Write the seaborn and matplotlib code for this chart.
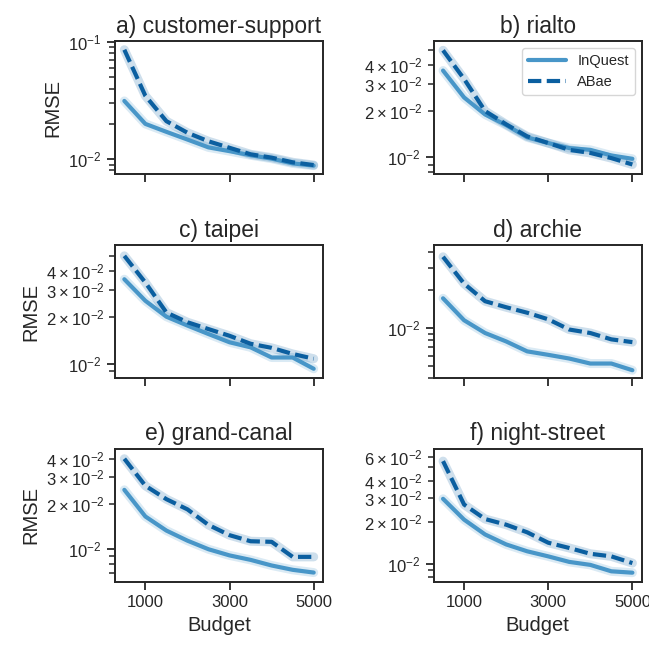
import pandas as pd
import matplotlib
matplotlib.use("Agg")
import matplotlib.pyplot as plt
import seaborn as sns

# === DATA ===
budgets = [500, 1000, 1500, 2000, 2500, 3000, 3500, 4000, 4500, 5000]

titles = ["a) customer-support", "b) rialto", "c) taipei",
          "d) archie", "e) grand-canal", "f) night-street"]

inquest_rmse = [
    [0.0314, 0.0200, 0.0171, 0.0147, 0.0126, 0.0117, 0.0108, 0.0101, 0.0092, 0.0088],
    [0.0366, 0.0245, 0.0190, 0.0162, 0.0135, 0.0124, 0.0115, 0.0112, 0.0103, 0.0098],
    [0.0353, 0.0256, 0.0202, 0.0177, 0.0156, 0.0138, 0.0128, 0.0110, 0.0110, 0.0093],
    [0.0172, 0.0115, 0.0091, 0.0078, 0.0065, 0.0061, 0.0057, 0.0052, 0.0052, 0.0046],
    [0.0248, 0.0165, 0.0133, 0.0114, 0.0100, 0.0091, 0.0085, 0.0078, 0.0073, 0.0070],
    [0.0296, 0.0209, 0.0163, 0.0138, 0.0123, 0.0113, 0.0103, 0.0098, 0.0088, 0.0086],
]

abae_rmse = [
    [0.0859, 0.0347, 0.0211, 0.0168, 0.0142, 0.0125, 0.0110, 0.0103, 0.0094, 0.0089],
    [0.0495, 0.0323, 0.0200, 0.0164, 0.0137, 0.0124, 0.0112, 0.0107, 0.0099, 0.0090],
    [0.0500, 0.0336, 0.0215, 0.0186, 0.0168, 0.0152, 0.0135, 0.0127, 0.0116, 0.0108],
    [0.0368, 0.0225, 0.0163, 0.0146, 0.0132, 0.0117, 0.0097, 0.0091, 0.0081, 0.0077],
    [0.0399, 0.0264, 0.0215, 0.0184, 0.0145, 0.0124, 0.0113, 0.0112, 0.0089, 0.0089],
    [0.0556, 0.0269, 0.0211, 0.0192, 0.0169, 0.0142, 0.0130, 0.0118, 0.0113, 0.0101],
]

# y-axis ranges as seen in the reference
y_limits = [(0.00743, 0.102), (0.00778, 0.0569), (0.00809, 0.0589),
            (0.00398, 0.0458), (0.00606, 0.0465), (0.00736, 0.0684)]

methods = ["InQuest", "ABae"]
colors = {"InQuest": "#4896c8", "ABae": "#0b5fa0"}
dashes = {"InQuest": "", "ABae": (3.2, 1.3)}


def build_frame(i):
    rows = []
    for m, vals in zip(methods, [inquest_rmse[i], abae_rmse[i]]):
        for b, v in zip(budgets, vals):
            rows.append({"Budget": b, "RMSE": v, "method": m})
    return pd.DataFrame(rows)


# === STYLE ===
sns.set_theme(style="ticks")
plt.rcParams["font.family"] = ["Liberation Sans", "DejaVu Sans"]
plt.rcParams["mathtext.default"] = "regular"
plt.rcParams["axes.edgecolor"] = "#262626"
plt.rcParams["axes.linewidth"] = 1.4

fig, axes = plt.subplots(3, 2, figsize=(6.49, 6.51), dpi=100, sharex=True)
fig.subplots_adjust(left=0.177, right=0.989, bottom=0.106, top=0.937,
                    wspace=0.53, hspace=0.53)

for i, ax in enumerate(axes.flat):
    df = build_frame(i)
    # light halo under each line (stands in for the confidence band)
    sns.lineplot(data=df, x="Budget", y="RMSE", hue="method", palette=colors,
                 linewidth=6.5, alpha=0.2, legend=False, ax=ax)
    sns.lineplot(data=df, x="Budget", y="RMSE", hue="method", style="method",
                 palette=colors, dashes=dashes, linewidth=3,
                 legend=(i == 1), ax=ax)
    ax.set_yscale("log")
    ax.set_ylim(*y_limits[i])
    ax.set_title(titles[i], fontsize=16.5)
    ax.set_xticks([1000, 3000, 5000])
    ax.tick_params(axis="both", which="major", labelsize=12, length=6, width=1.3,
                   color="#262626")
    ax.tick_params(axis="y", which="minor", length=4, width=1.1, color="#262626",
                   labelsize=12)
    ax.set_ylabel("RMSE" if i % 2 == 0 else "", fontsize=14.5)
    ax.set_xlabel("Budget" if i >= 4 else "", fontsize=14.5)
    for s in ax.spines.values():
        s.set_visible(True)
    if i == 1:
        ax.legend(title=None, loc="upper right", fontsize=10.5, handlelength=2.6,
                  frameon=True, framealpha=0.8, edgecolor="#cccccc")

fig.savefig("out.png", dpi=100)
